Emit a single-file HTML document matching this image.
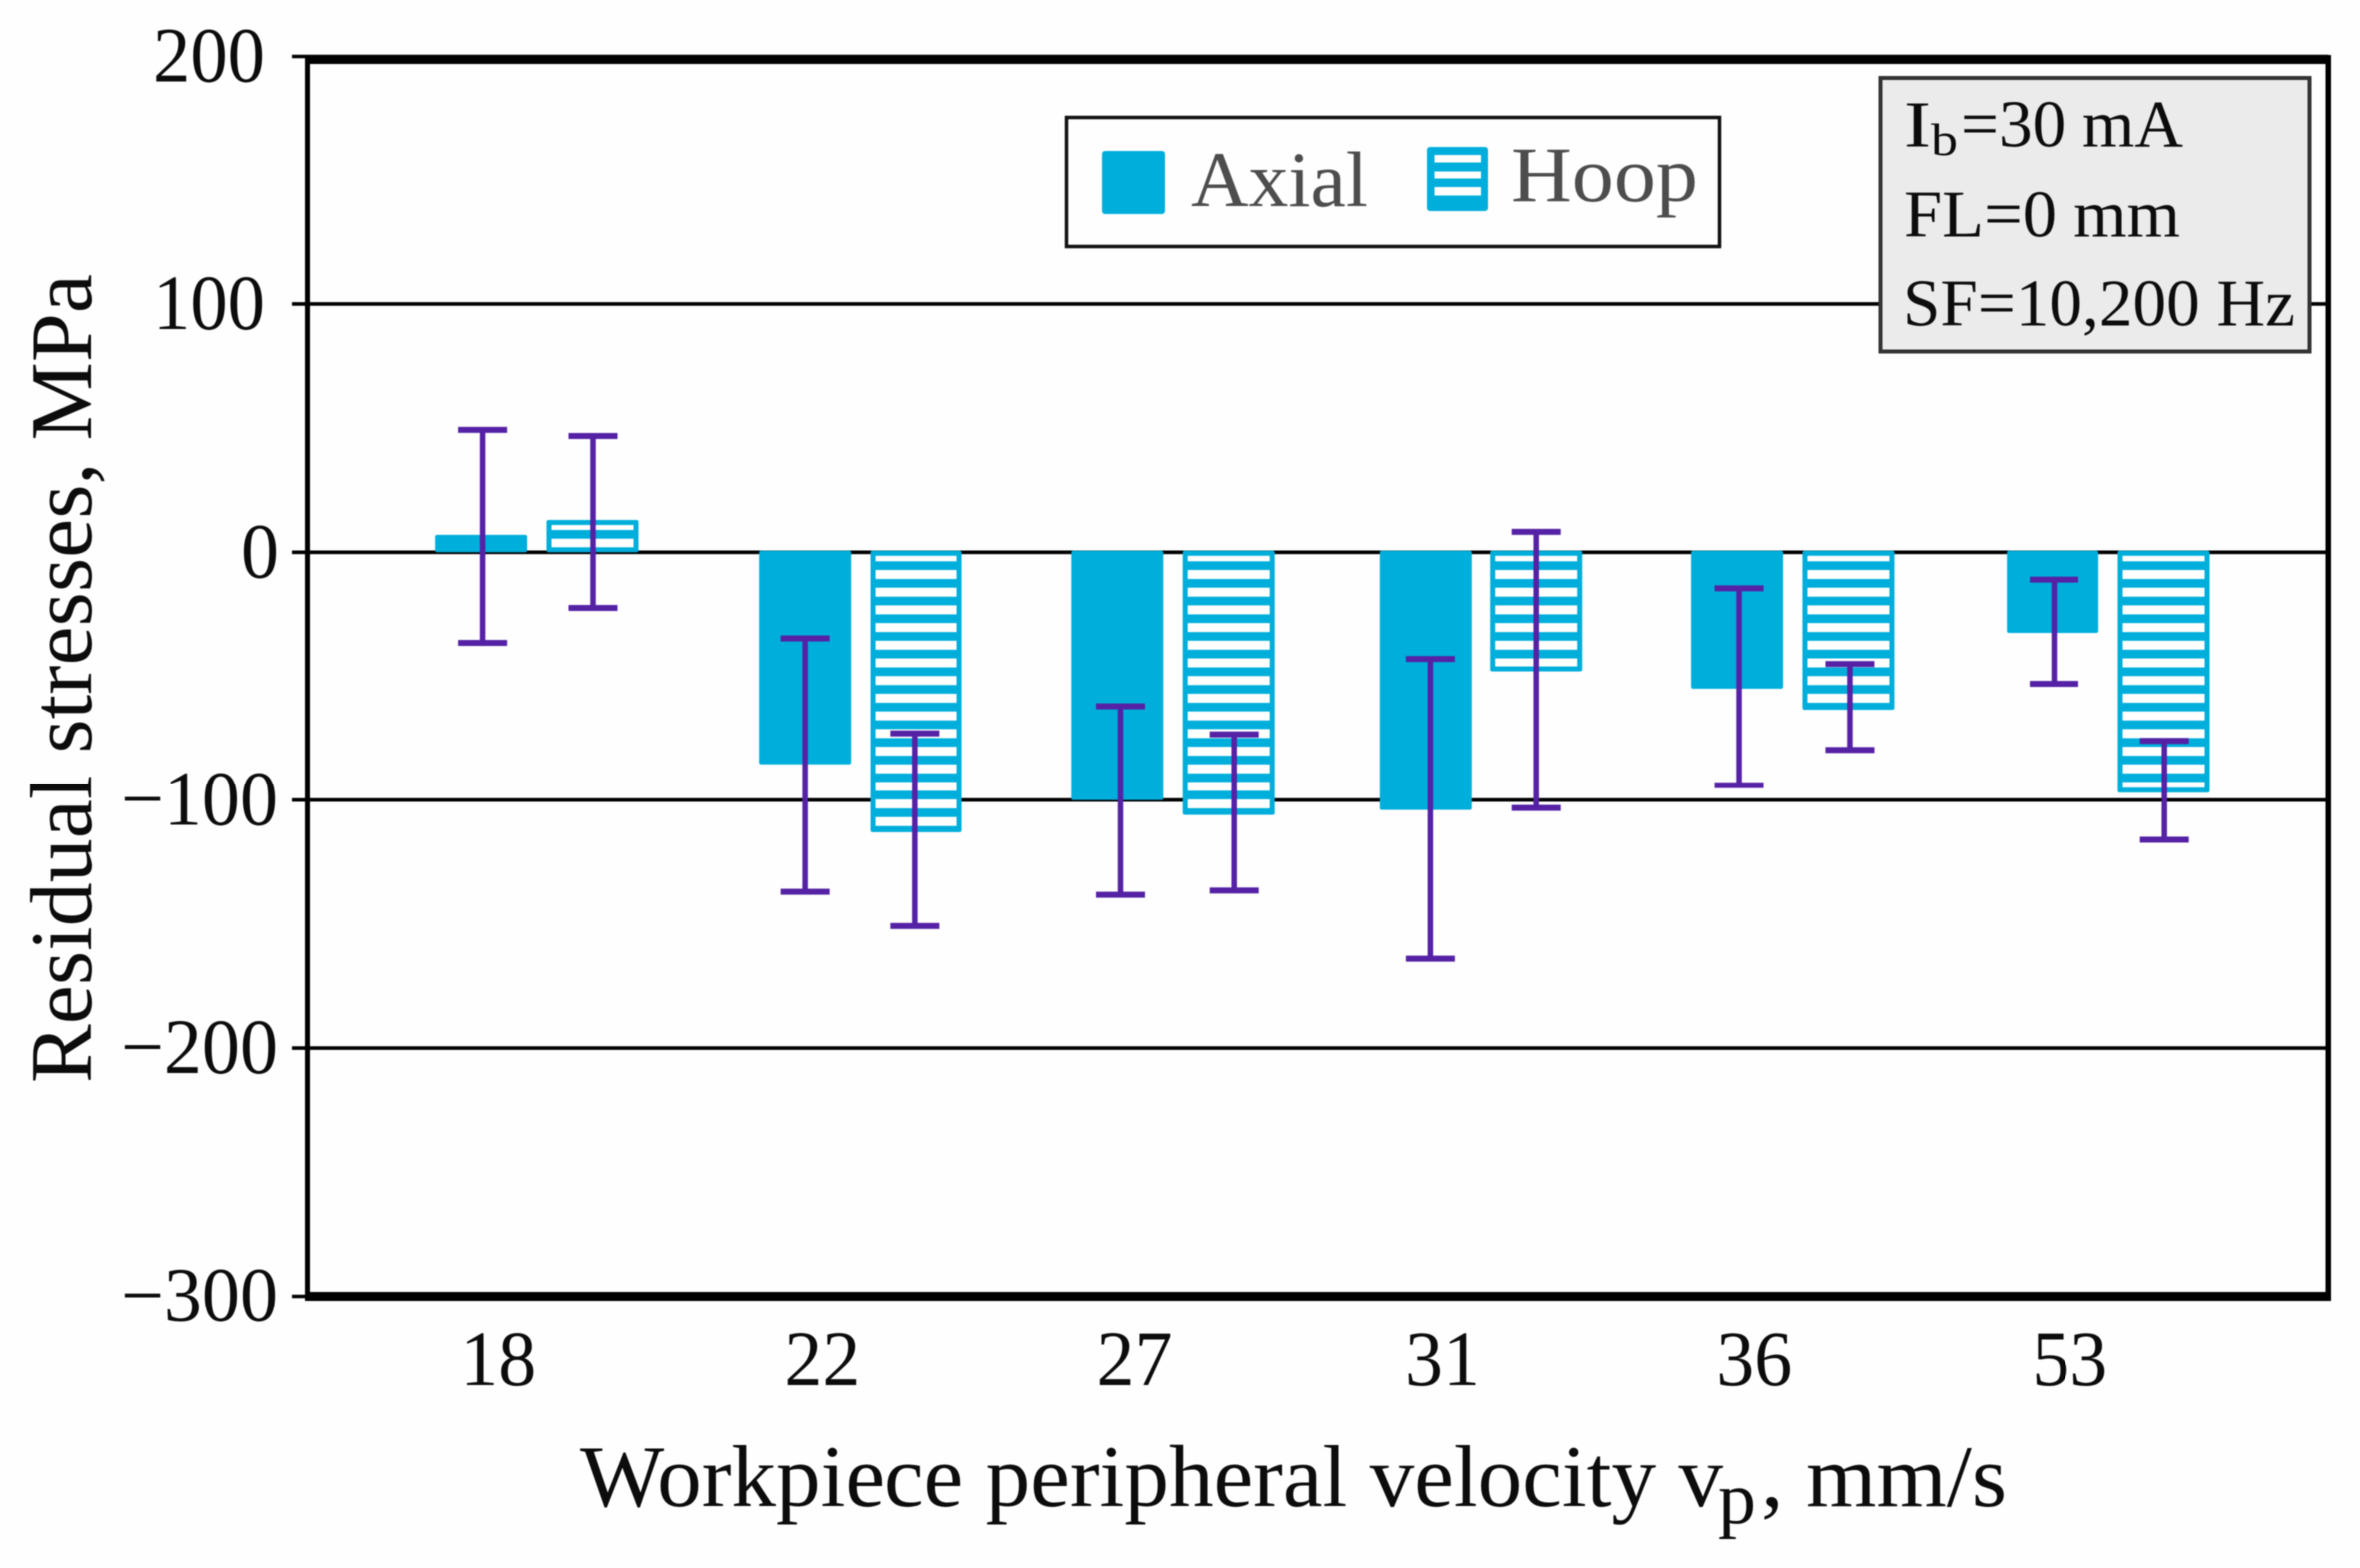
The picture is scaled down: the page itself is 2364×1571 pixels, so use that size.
<!DOCTYPE html>
<html lang="en">
<head>
<meta charset="utf-8">
<title>Residual stresses vs workpiece peripheral velocity</title>
<style>
  html, body { margin: 0; padding: 0; background: #ffffff; }
  svg { display: block; font-family: "Liberation Serif", "DejaVu Serif", serif; filter: blur(0.6px); }
  text { fill: #0c0c0c; }
</style>
</head>
<body>
<svg id="chart" xmlns="http://www.w3.org/2000/svg" width="2364" height="1571" viewBox="0 0 2364 1571">
  <rect x="0" y="0" width="2364" height="1571" fill="#fefefe"/>
  <g id="grid"></g>
  <g id="marks"></g>

  <g fill="#000">
    <rect x="306" y="55" width="2029" height="9"/>
    <rect x="306" y="1294" width="2029" height="9"/>
    <rect x="306" y="55" width="5" height="1248"/>
    <rect x="2329.5" y="55" width="5.5" height="1248"/>
  </g>

  <g id="y-labels"></g>
  <g id="x-labels"></g>

  <text transform="translate(91,1085) rotate(-90)" font-size="88" textLength="810" lengthAdjust="spacingAndGlyphs">Residual stresses, MPa</text>

  <g>
    <text x="581" y="1509" font-size="88" textLength="1145" lengthAdjust="spacingAndGlyphs">Workpiece peripheral velocity v</text>
    <text x="1721" y="1526" font-size="74" textLength="38" lengthAdjust="spacingAndGlyphs">p</text>
    <text x="1764" y="1509" font-size="88" textLength="246" lengthAdjust="spacingAndGlyphs">, mm/s</text>
  </g>

  <g>
    <rect x="1068.5" y="117.5" width="654" height="129" fill="#fefefe" stroke="#111" stroke-width="3.5"/>
    <rect x="1104" y="151" width="63" height="63" rx="3" fill="#00aedb"/>
    <text x="1193" y="206" font-size="78" textLength="177" lengthAdjust="spacingAndGlyphs" style="fill:#4d4d4d">Axial</text>
    <g>
      <rect x="1429" y="147" width="62" height="64" rx="3" fill="#00aedb"/>
      <rect x="1436.5" y="155" width="47.5" height="7.5" fill="#fff"/>
      <rect x="1436.5" y="171.5" width="47.5" height="7" fill="#fff"/>
      <rect x="1436.5" y="187" width="47.5" height="8.5" fill="#fff"/>
    </g>
    <text x="1514" y="201" font-size="78" textLength="187" lengthAdjust="spacingAndGlyphs" style="fill:#4d4d4d">Hoop</text>
  </g>

  <g>
    <rect x="1883.5" y="78" width="430" height="274.5" fill="#ebebeb" stroke="#333" stroke-width="4"/>
    <text x="1907" y="146.5" font-size="66" textLength="27" lengthAdjust="spacingAndGlyphs">I</text>
    <text x="1934" y="155" font-size="46" textLength="27" lengthAdjust="spacingAndGlyphs">b</text>
    <text x="1964" y="146.5" font-size="67" textLength="223" lengthAdjust="spacingAndGlyphs">=30 mA</text>
    <text x="1907" y="236.5" font-size="67" textLength="277" lengthAdjust="spacingAndGlyphs">FL=0 mm</text>
    <text x="1906" y="326.5" font-size="67" textLength="393" lengthAdjust="spacingAndGlyphs">SF=10,200 Hz</text>
  </g>
</svg>

<script>
const categories = ['18', '22', '27', '31', '36', '53'];
const axialValues = [7, -85.5, -100, -104, -55, -32.5];
const hoopValues = [13, -113, -106, -48, -63.5, -97];
const axialErrorHigh = [49.3, -34.7, -62.1, -43, -14.5, -11];
const axialErrorLow = [-36.5, -137, -138.2, -164, -94, -53];
const hoopErrorHigh = [46.8, -73, -73.4, 8.2, -45, -76];
const hoopErrorLow = [-22.4, -150.8, -136.5, -103.2, -79.7, -116];
const yTickValues = [200, 100, 0, -100, -200, -300];
const yTickLabels = ['200', '100', '0', '\u2212100', '\u2212200', '\u2212300'];

const SVG_NS = 'http://www.w3.org/2000/svg';
const BLUE = '#00aedb';
const PURPLE = '#5522a5';
const BAR_WIDTH = 92;

function yScale(v) {
  return 553.3 - 2.484 * v;
}

function groupCenter(i) {
  // The source chart's groups are hand-placed, so the band axis carries small per-group corrections.
  const corrections = [0, 9.25, 7.6, 1.3, -1.25, 0];
  return 537.8 + 314.8 * i + (corrections[i] || 0);
}

function barCenter(i, seriesIndex) {
  return groupCenter(i) + (seriesIndex === 0 ? -55.7 : 55.7);
}

function errorCenter(i, seriesIndex) {
  const corrections = [[1.5, 0, 3.2, 4.6, 2, 1.4], [0.5, -0.7, 5.5, 0, 1.5, 0.7]];
  return barCenter(i, seriesIndex) + (corrections[seriesIndex][i] || 0);
}

function make(tag, attrs, parent) {
  const el = document.createElementNS(SVG_NS, tag);
  Object.keys(attrs).forEach(function (k) { el.setAttribute(k, attrs[k]); });
  parent.appendChild(el);
  return el;
}

const gridLayer = document.getElementById('grid');
const marksLayer = document.getElementById('marks');
const yLabelLayer = document.getElementById('y-labels');
const xLabelLayer = document.getElementById('x-labels');

yTickValues.forEach(function (v, i) {
  const y = yScale(v);
  const line = make('line', { x1: 292, x2: 2332, y1: y, y2: y, stroke: '#000', 'stroke-width': 3.6 }, gridLayer);
  
  

  const label = yTickLabels[i];
  const len = label.length === 1 ? 38 : (v < 0 ? 157 : 112);
  const right = v === 0 ? 279 : (v < 0 ? 278 : 265);
  const text = make('text', {
    x: right - len, y: y + 25, 'font-size': 78, textLength: len, lengthAdjust: 'spacingAndGlyphs'
  }, yLabelLayer);
  text.textContent = label;
  
  
});

categories.forEach(function (cat, i) {
  const text = make('text', {
    x: groupCenter(i) - 38.5 - 38, y: 1388, 'font-size': 78, textLength: 76, lengthAdjust: 'spacingAndGlyphs'
  }, xLabelLayer);
  text.textContent = cat;
  
  
});

function drawSolidBar(i, value, parent) {
  const y0 = yScale(0);
  const yv = yScale(value);
  const top = Math.min(y0, yv) - (value < 0 ? 1.5 : 0);
  const bar = make('rect', {
    x: barCenter(i, 0) - BAR_WIDTH / 2, y: top, width: BAR_WIDTH,
    height: Math.abs(yv - y0) + (value < 0 ? 1.5 : 0), rx: 2, fill: BLUE
  }, parent);
  
  
}

function drawHoopBar(i, value, parent) {
  const y0 = yScale(0);
  const yv = yScale(value);
  const top = Math.min(y0, yv) - (value < 0 ? 1.5 : 0);
  const bottom = Math.max(y0, yv);
  const left = barCenter(i, 1) - BAR_WIDTH / 2;
  const bar = make('rect', {
    x: left, y: top, width: BAR_WIDTH, height: bottom - top, rx: 2, fill: BLUE
  }, parent);
  
  

  const border = 5;
  const period = 17.7;
  const stripeHeight = 9;
  const innerTop = top + border;
  const innerBottom = bottom - border;
  const dir = value < 0 ? 1 : -1;
  const firstStart = value < 0 ? y0 : y0 - 4.6 - stripeHeight;
  for (let k = 0; k < 40; k++) {
    const s = firstStart + dir * k * period;
    const a = Math.max(s, innerTop);
    const b = Math.min(s + stripeHeight, innerBottom);
    if (b <= a) continue;
    const stripe = make('rect', {
      x: left + border, y: a, width: BAR_WIDTH - 2 * border, height: b - a, fill: '#ffffff'
    }, parent);
    
    
  }
}

function drawErrorBar(i, seriesIndex, high, low, parent) {
  const x = errorCenter(i, seriesIndex);
  const capHalf = 24.5;
  const stem = make('line', {
    x1: x, x2: x, y1: yScale(high), y2: yScale(low), stroke: PURPLE, 'stroke-width': 5.5
  }, parent);
  
  
  [high, low].forEach(function (v) {
    const cap = make('line', {
      x1: x - capHalf, x2: x + capHalf, y1: yScale(v), y2: yScale(v), stroke: PURPLE, 'stroke-width': 6
    }, parent);
    
    
  });
}

categories.forEach(function (cat, i) {
  drawSolidBar(i, axialValues[i], marksLayer);
  drawHoopBar(i, hoopValues[i], marksLayer);
});
categories.forEach(function (cat, i) {
  drawErrorBar(i, 0, axialErrorHigh[i], axialErrorLow[i], marksLayer);
  drawErrorBar(i, 1, hoopErrorHigh[i], hoopErrorLow[i], marksLayer);
});
</script>
</body>
</html>
